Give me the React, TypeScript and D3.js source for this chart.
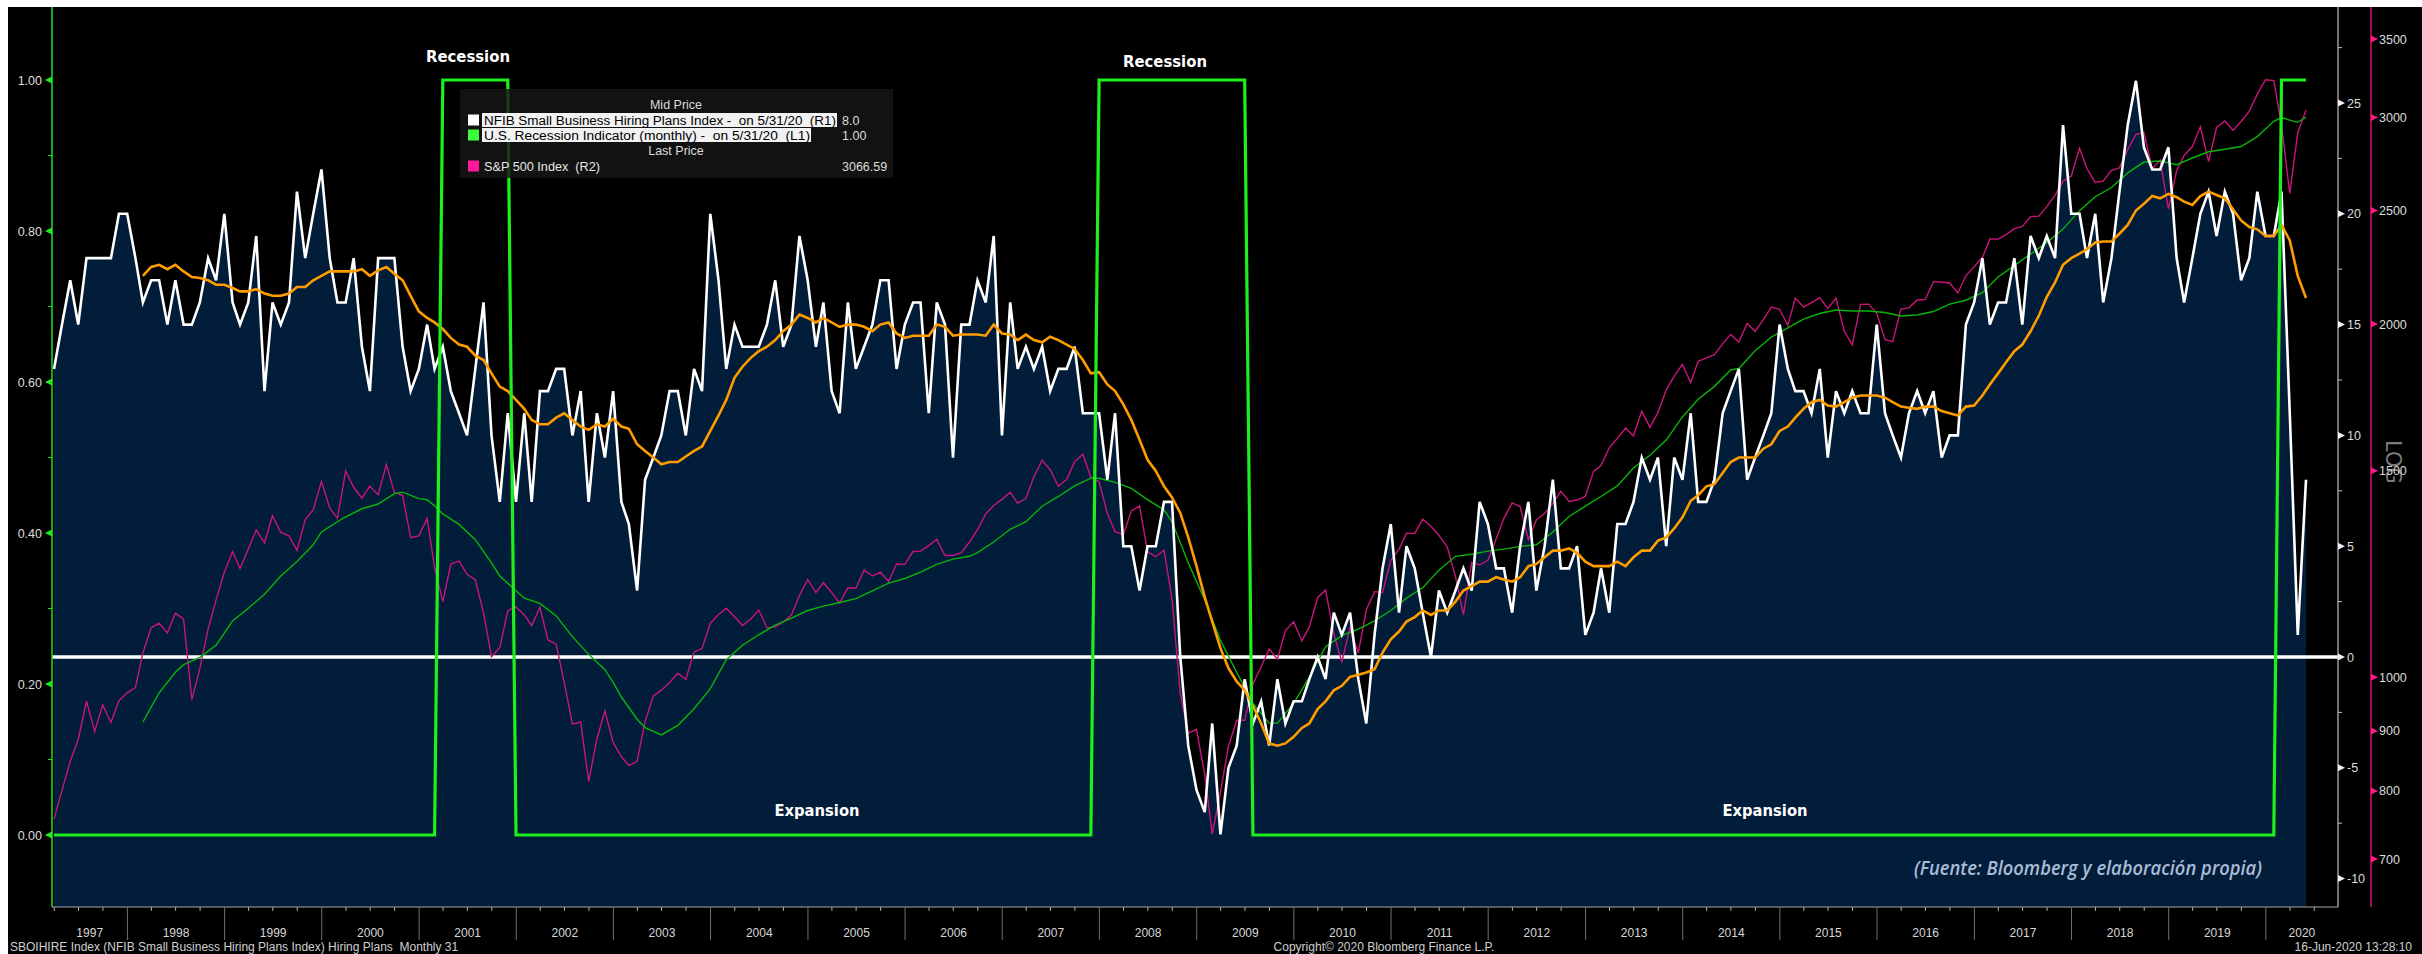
import React from 'react';
import * as d3 from 'd3';

// ---------- DATA (monthly, first month = Mar 1997, last = May 2020) ----------
const firstYear = 1997;
const firstMonth = 3;

// NFIB Small Business Hiring Plans Index (R1)
const nfib = [
  13, 15, 17, 15, 18, 18, 18, 18, 20, 20, 18, 16,
  17, 17, 15, 17, 15, 15, 16, 18, 17, 20, 16, 15,
  16, 19, 12, 16, 15, 16, 21, 18, 20, 22, 18, 16,
  16, 18, 14, 12, 18, 18, 18, 14, 12, 13, 15, 13,
  14, 12, 11, 10, 13, 16, 10, 7, 11, 7, 11, 7,
  12, 12, 13, 13, 10, 12, 7, 11, 9, 12, 7, 6,
  3, 8, 9, 10, 12, 12, 10, 13, 12, 20, 17, 13,
  15, 14, 14, 14, 15, 17, 14, 15, 19, 17, 14, 16,
  12, 11, 16, 13, 14, 15, 17, 17, 13, 15, 16, 16,
  11, 16, 15, 9, 15, 15, 17, 16, 19, 10, 16, 13,
  14, 13, 14, 12, 13, 13, 14, 11, 11, 11, 8, 11,
  5, 5, 3, 5, 5, 7, 7, 0, -4, -6, -7, -3,
  -8, -5, -4, -1, -3, -2, -4, -1, -3, -2, -2, -1,
  0, -1, 2, 1, 2, -1, -3, 1, 4, 6, 2, 5,
  4, 2, 0, 3, 2, 3, 4, 3, 7, 6, 4, 4,
  2, 5, 7, 3, 5, 8, 4, 4, 5, 1, 2, 4,
  2, 6, 6, 7, 9, 8, 9, 5, 9, 8, 11, 7,
  7, 8, 11, 12, 13, 8, 9, 10, 11, 15, 13, 12,
  12, 11, 13, 9, 12, 11, 12, 11, 11, 15, 11, 10,
  9, 11, 12, 11, 12, 9, 10, 10, 15, 16, 18, 15,
  16, 16, 18, 15, 19, 18, 19, 18, 24, 20, 20, 18,
  20, 16, 18, 21, 24, 26, 23, 22, 22, 23, 18, 16,
  18, 20, 21, 19, 21, 20, 17, 18, 21, 19, 19, 21,
  11, 1, 8,
];

// S&P 500 Index monthly close (R2)
const spx = [
  757, 801, 848, 885, 954, 899, 947, 915, 955, 970,
  980, 1049, 1102, 1112, 1091, 1134, 1121, 957, 1017, 1099, 1164, 1229,
  1280, 1238, 1286, 1335, 1302, 1373, 1329, 1320, 1283, 1363, 1389, 1469,
  1394, 1366, 1499, 1452, 1421, 1455, 1431, 1518, 1437, 1429, 1315, 1320,
  1366, 1240, 1160, 1249, 1256, 1224, 1211, 1134, 1041, 1060, 1139, 1148,
  1130, 1107, 1147, 1076, 1067, 990, 912, 916, 815, 886, 936, 880,
  856, 841, 848, 917, 964, 975, 990, 1008, 996, 1051, 1058, 1112,
  1131, 1145, 1126, 1107, 1121, 1141, 1102, 1104, 1115, 1130, 1174, 1212,
  1181, 1204, 1181, 1157, 1192, 1191, 1234, 1220, 1229, 1207, 1249, 1248,
  1280, 1281, 1295, 1311, 1270, 1270, 1277, 1304, 1336, 1378, 1401, 1418,
  1438, 1407, 1421, 1482, 1531, 1503, 1455, 1474, 1527, 1549, 1481, 1468,
  1379, 1331, 1323, 1386, 1400, 1280, 1267, 1283, 1166, 969, 896, 903,
  826, 735, 798, 873, 919, 919, 987, 1021, 1057, 1036, 1096, 1115,
  1074, 1104, 1169, 1187, 1089, 1031, 1102, 1049, 1141, 1183, 1181, 1258,
  1286, 1327, 1326, 1364, 1345, 1321, 1292, 1219, 1131, 1253, 1247, 1258,
  1312, 1366, 1408, 1398, 1310, 1362, 1379, 1407, 1441, 1412, 1416, 1426,
  1498, 1515, 1569, 1598, 1631, 1606, 1686, 1633, 1682, 1757, 1806, 1848,
  1783, 1859, 1872, 1884, 1924, 1960, 1931, 2003, 1972, 2018, 2068, 2059,
  1995, 2105, 2068, 2086, 2107, 2063, 2104, 1972, 1920, 2079, 2080, 2044,
  1940, 1932, 2060, 2065, 2097, 2099, 2174, 2171, 2168, 2126, 2199, 2239,
  2279, 2364, 2363, 2384, 2412, 2423, 2470, 2472, 2519, 2575, 2648, 2674,
  2824, 2714, 2641, 2648, 2705, 2718, 2816, 2902, 2914, 2712, 2760, 2507,
  2704, 2784, 2834, 2946, 2752, 2942, 2980, 2926, 2977, 3038, 3141, 3231,
  3226, 2954, 2585, 2912, 3044,
];

// Moving average of NFIB index (orange), starts Feb 1998
const nfibMaFirstIndex = 11;
const nfibMa = [
  17.2, 17.6, 17.7, 17.5, 17.7, 17.4, 17.15, 17.1, 17.0, 16.8, 16.8, 16.65,
  16.5, 16.5, 16.6, 16.4, 16.3, 16.3, 16.4, 16.7, 16.7, 17.0, 17.2, 17.4,
  17.4, 17.4, 17.4, 17.5, 17.2, 17.45, 17.6, 17.3, 17.0, 16.3, 15.6, 15.3,
  15.1, 14.8, 14.4, 14.1, 14.0, 13.6, 13.4, 12.8, 12.2, 12.0, 11.6, 11.2,
  10.7, 10.5, 10.5, 10.8, 11.0, 10.7, 10.4, 10.25, 10.5, 10.4, 10.75, 10.4,
  10.3, 9.6, 9.3, 9.0, 8.7, 8.8, 8.8, 9.05, 9.3, 9.5, 10.2, 10.9,
  11.6, 12.6, 13.1, 13.5, 13.8, 14.0, 14.3, 14.7, 15.0, 15.45, 15.3, 15.1,
  15.3, 15.1, 14.9, 15.0, 15.0, 14.9, 14.7, 15.0, 15.1, 14.6, 14.4, 14.5,
  14.5, 14.5, 15.0, 14.9, 14.5, 14.55, 14.55, 14.55, 14.5, 15.0, 14.6, 14.55,
  14.3, 14.55, 14.3, 14.2, 14.45, 14.3, 14.1, 13.9, 13.4, 12.8, 12.85, 12.3,
  12.0, 11.4, 10.7, 9.8, 8.9, 8.4, 7.7, 7.2, 6.5, 5.4, 4.1, 2.7,
  1.6, 0.4, -0.5, -1.1, -1.5, -2.2, -3.0, -3.9, -4.0, -3.9, -3.6, -3.2,
  -3.0, -2.35, -2.0, -1.5, -1.3, -0.9, -0.8, -0.7, -0.55, 0.2, 0.8, 1.15,
  1.6, 1.8, 2.1, 1.9, 2.1, 2.1, 2.5, 3.0, 3.2, 3.4, 3.4, 3.6,
  3.5, 3.4, 3.6, 4.1, 4.2, 4.5, 4.8, 4.8, 4.9, 4.7, 4.3, 4.1,
  4.1, 4.1, 4.3, 4.1, 4.5, 4.8, 4.8, 5.25, 5.4, 5.8, 6.3, 7.05,
  7.3, 7.7, 7.8, 8.3, 8.8, 9.0, 9.0, 9.0, 9.4, 9.6, 10.2, 10.4,
  10.8, 11.2, 11.5, 11.6, 11.35, 11.3, 11.5, 11.7, 11.8, 11.8, 11.8, 11.7,
  11.5, 11.3, 11.25, 11.2, 11.3, 11.3, 11.1, 11.0, 10.9, 11.3, 11.35, 11.8,
  12.3, 12.8, 13.3, 13.8, 14.1, 14.7, 15.4, 16.25, 16.9, 17.7, 18.0, 18.2,
  18.4, 18.7, 18.75, 18.75, 19.1, 19.5, 20.15, 20.45, 20.8, 20.7, 20.9, 20.75,
  20.55, 20.4, 20.8, 21.0, 20.85, 20.7, 20.2, 19.7, 19.4, 19.3, 19.0, 19.0,
  19.5, 18.8, 17.2, 16.2,
];

// Moving average of S&P 500 (thin green), read at these month indices (0 = Mar 1997)
const spxMaIndex = [
  11, 13, 15, 16, 18, 20, 22, 24, 26, 28, 30, 32, 33, 35, 36, 38, 40, 42, 43, 45,
  46, 47, 48, 50, 52, 54, 55, 57, 58, 60, 62, 64, 66, 68, 69, 70, 72, 73, 75, 77,
  79, 81, 83, 85, 87, 89, 91, 93, 95, 97, 99, 101, 103, 105, 107, 109, 111, 113, 114, 116,
  118, 120, 122, 124, 126, 128, 129, 131, 133, 135, 137, 138, 140, 142, 144, 146, 148, 150, 151, 153,
  155, 157, 159, 161, 163, 165, 167, 169, 171, 173, 175, 177, 179, 181, 183, 185, 187, 189, 191, 193,
  195, 197, 199, 201, 203, 205, 207, 208, 210, 212, 214, 216, 218, 220, 222, 224, 226, 228, 230, 232,
  234, 236, 238, 240, 242, 244, 246, 248, 250, 252, 254, 256, 258, 260, 262, 264, 266, 268, 270, 272,
  274, 275, 276, 277, 278,
];
const spxMa = [
  916, 970, 1010, 1025, 1040, 1065, 1117, 1145, 1177, 1220, 1255, 1297, 1330, 1357, 1370, 1392, 1405, 1434, 1438, 1420,
  1417, 1400, 1378, 1350, 1310, 1252, 1220, 1185, 1168, 1156, 1128, 1083, 1046, 1015, 990, 962, 921, 906, 893, 910,
  940, 978, 1035, 1065, 1087, 1108, 1123, 1140, 1150, 1158, 1167, 1185, 1203, 1214, 1229, 1248, 1261, 1268, 1277, 1304,
  1337, 1357, 1399, 1426, 1456, 1478, 1478, 1466, 1449, 1417, 1389, 1357, 1252, 1164, 1075, 1010, 950, 914, 914, 950,
  1000, 1062, 1085, 1099, 1117, 1140, 1168, 1192, 1234, 1268, 1273, 1281, 1286, 1293, 1297, 1330, 1371, 1399, 1426, 1456,
  1508, 1546, 1593, 1667, 1726, 1770, 1828, 1833, 1898, 1950, 1985, 2020, 2042, 2056, 2052, 2052, 2046, 2032, 2036, 2050,
  2080, 2096, 2127, 2194, 2243, 2295, 2347, 2410, 2499, 2568, 2615, 2691, 2749, 2755, 2735, 2771, 2805, 2819, 2834, 2890,
  2978, 3000, 2985, 2972, 3003,
];

// U.S. Recession Indicator (L1): months flagged as recession
const recessionFrom = ['2001-03', '2007-12', '2020-02'];
const recessionTo = ['2001-11', '2009-06', '2020-05'];

const leftTicks = [0, 0.2, 0.4, 0.6, 0.8, 1.0];
const leftMinor = [0.1, 0.3, 0.5, 0.7, 0.9];
const r1Ticks = [-10, -5, 0, 5, 10, 15, 20, 25];
const r1Minor = [-7.5, -2.5, 2.5, 7.5, 12.5, 17.5, 22.5, 27.5];
const r2Ticks = [700, 800, 900, 1000, 1500, 2000, 2500, 3000, 3500];

const legendRows = [
  'NFIB Small Business Hiring Plans Index -  on 5/31/20  (R1)',
  'U.S. Recession Indicator (monthly) -  on 5/31/20  (L1)',
  'S&P 500 Index  (R2)',
];
const legendValues = ['8.0', '1.00', '3066.59'];

// ---------- helpers ----------
const monthEnd = (m: number) => new Date(firstYear, firstMonth - 1 + m + 1, 0);
const monthIdx = (s: string) => {
  const [y, mo] = s.split('-').map(Number);
  return (y - firstYear) * 12 + (mo - firstMonth);
};

const AX = "'Liberation Sans', Arial, sans-serif";

export default function App() {
  const n = nfib.length;
  const dates = d3.range(n).map(monthEnd);

  const plotL = 52;
  const dataR = 2306;
  const r1X = 2338;
  const r2X = 2371;
  const top = 7;
  const bottom = 907;

  const x = d3.scaleTime().domain([dates[0], dates[n - 1]]).range([54, dataR]);
  const yL = d3.scaleLinear().domain([0, 1]).range([835, 80]);
  const yR1 = d3.scaleLinear().domain([0, 25]).range([657, 103]);
  const yR2 = d3.scaleLog().domain([700, 3500]).range([859, 39]);

  const recession = dates.map((_, i) =>
    recessionFrom.some((s, k) => i >= monthIdx(s) && i <= monthIdx(recessionTo[k])) ? 1 : 0
  );

  const area = d3
    .area<number>()
    .x((_, i) => x(dates[i]))
    .y0(bottom)
    .y1((d) => yR1(d));
  const nfibLine = d3
    .line<number>()
    .x((_, i) => x(dates[i]))
    .y((d) => yR1(d));
  const nfibMaLine = d3
    .line<number>()
    .x((_, i) => x(dates[i + nfibMaFirstIndex]))
    .y((d) => yR1(d));
  const spxLine = d3
    .line<number>()
    .x((_, i) => x(dates[i]))
    .y((d) => yR2(d));
  const spxMaLine = d3
    .line<number>()
    .x((_, i) => x(dates[spxMaIndex[i]]))
    .y((d) => yR2(d));
  const recLine = d3
    .line<number>()
    .x((_, i) => x(dates[i]))
    .y((d) => yL(d));

  // bottom axis
  const axisStart = x.invert(plotL);
  const axisEnd = x.invert(r1X);
  const yearStarts = d3.timeYear.range(d3.timeYear.ceil(axisStart), axisEnd);
  const quarterTicks = d3.timeMonth
    .every(3)!
    .range(d3.timeMonth.ceil(axisStart), axisEnd)
    .filter((d) => d.getMonth() !== 0);
  const years = d3.range(axisStart.getFullYear(), axisEnd.getFullYear() + 1);

  const tri = (xa: number, y: number, dir: number) =>
    `${xa},${y - 3.5} ${xa},${y + 3.5} ${xa + dir * 7},${y}`;

  return (
    <svg
      width={2422}
      height={954}
      style={{ position: 'absolute', left: 0, top: 0, display: 'block' }}
    >
      <rect x={0} y={0} width={2422} height={954} fill="#ffffff" />
      <rect x={8} y={top} width={2414} height={954 - top} fill="#000000" />

      {/* NFIB area */}
      <path d={area(nfib) || ''} fill="#021d3a" />

      {/* R1 zero line */}
      <line x1={plotL} x2={r1X} y1={yR1(0)} y2={yR1(0)} stroke="#ffffff" strokeWidth={3.5} />

      {/* S&P 500 and its average */}
      <path d={spxLine(spx) || ''} fill="none" stroke="#c8157a" strokeWidth={1.4} />
      <path d={spxMaLine(spxMa) || ''} fill="none" stroke="#0ab40a" strokeWidth={1.4} />

      {/* NFIB line and average */}
      <path d={nfibLine(nfib) || ''} fill="none" stroke="#ffffff" strokeWidth={2.6} strokeLinejoin="miter" />
      <path d={nfibMaLine(nfibMa) || ''} fill="none" stroke="#ff9c00" strokeWidth={2.6} />

      {/* recession indicator */}
      <path d={recLine(recession) || ''} fill="none" stroke="#1ef01e" strokeWidth={3.2} />

      {/* left axis */}
      <line x1={plotL} x2={plotL} y1={top} y2={bottom} stroke="#1ee01e" strokeWidth={1.5} />
      {leftTicks.map((t) => (
        <g key={'l' + t}>
          <polygon points={tri(plotL, yL(t), -1)} fill="#1ef01e" />
          <text x={42} y={yL(t) + 4.5} fill="#dcdcdc" fontSize={12.5} fontFamily={AX} textAnchor="end">
            {t.toFixed(2)}
          </text>
        </g>
      ))}
      {leftMinor.map((t) => (
        <line key={'lm' + t} x1={plotL - 4} x2={plotL} y1={yL(t)} y2={yL(t)} stroke="#1ee01e" strokeWidth={1} />
      ))}

      {/* R1 axis */}
      <line x1={r1X} x2={r1X} y1={top} y2={bottom} stroke="#bdbdbd" strokeWidth={1.2} />
      {r1Ticks.map((t) => (
        <g key={'r1' + t}>
          <polygon points={tri(r1X, yR1(t), 1)} fill="#f0f0f0" />
          <text x={r1X + 9} y={yR1(t) + 4.5} fill="#dcdcdc" fontSize={12.5} fontFamily={AX}>
            {t}
          </text>
        </g>
      ))}
      {r1Minor.map((t) => (
        <line key={'r1m' + t} x1={r1X} x2={r1X + 4} y1={yR1(t)} y2={yR1(t)} stroke="#bdbdbd" strokeWidth={1} />
      ))}

      {/* R2 axis */}
      <line x1={r2X} x2={r2X} y1={top} y2={bottom} stroke="#ff1a8c" strokeWidth={1.2} />
      <text
        x={2386}
        y={440}
        fill="#7d7d7d"
        fontSize={21}
        fontFamily="'DejaVu Sans', sans-serif"
        transform="rotate(90 2386 440)"
      >
        LOG
      </text>
      {r2Ticks.map((t) => (
        <g key={'r2' + t}>
          <polygon points={tri(r2X, yR2(t), 1)} fill="#ff1a8c" />
          <text x={r2X + 8} y={yR2(t) + 4.5} fill="#dcdcdc" fontSize={12.5} fontFamily={AX}>
            {t}
          </text>
        </g>
      ))}

      {/* bottom axis */}
      <line x1={plotL} x2={r1X} y1={bottom} y2={bottom} stroke="#a8a8a8" strokeWidth={1.2} />
      {quarterTicks.map((d) => (
        <line key={'q' + d.getTime()} x1={x(d)} x2={x(d)} y1={bottom} y2={bottom + 4} stroke="#a8a8a8" strokeWidth={1} />
      ))}
      {yearStarts.map((d) => (
        <line key={'y' + d.getTime()} x1={x(d)} x2={x(d)} y1={bottom} y2={bottom + 33} stroke="#6e6e6e" strokeWidth={1} />
      ))}
      {years.map((yr) => {
        const a = Math.max(plotL, x(new Date(yr, 0, 1)));
        const b = Math.min(r1X, x(new Date(yr + 1, 0, 1)));
        return (
          <text key={'yl' + yr} x={(a + b) / 2} y={937} fill="#d8d8d8" fontSize={12} fontFamily={AX} textAnchor="middle">
            {yr}
          </text>
        );
      })}

      {/* footer */}
      <text x={10} y={951} fill="#d0d0d0" fontSize={12} fontFamily={AX} style={{ whiteSpace: 'pre' }}>
        {'SBOIHIRE Index (NFIB Small Business Hiring Plans Index) Hiring Plans  Monthly 31'}
      </text>
      <text x={1384} y={951} fill="#d0d0d0" fontSize={12} fontFamily={AX} textAnchor="middle">
        Copyright© 2020 Bloomberg Finance L.P.
      </text>
      <text x={2412} y={951} fill="#d0d0d0" fontSize={12} fontFamily={AX} textAnchor="end">
        16-Jun-2020 13:28:10
      </text>

      {/* annotations */}
      <text x={468} y={62} fill="#ffffff" fontSize={15} fontWeight="bold" fontFamily="'DejaVu Sans', sans-serif" textAnchor="middle" textLength={84} lengthAdjust="spacingAndGlyphs">
        Recession
      </text>
      <text x={1165} y={67} fill="#ffffff" fontSize={15} fontWeight="bold" fontFamily="'DejaVu Sans', sans-serif" textAnchor="middle" textLength={84} lengthAdjust="spacingAndGlyphs">
        Recession
      </text>
      <text x={817} y={816} fill="#ffffff" fontSize={15} fontWeight="bold" fontFamily="'DejaVu Sans', sans-serif" textAnchor="middle" textLength={85} lengthAdjust="spacingAndGlyphs">
        Expansion
      </text>
      <text x={1765} y={816} fill="#ffffff" fontSize={15} fontWeight="bold" fontFamily="'DejaVu Sans', sans-serif" textAnchor="middle" textLength={85} lengthAdjust="spacingAndGlyphs">
        Expansion
      </text>
      <text x={1914} y={875} fill="#a9bbd6" fontSize={20} fontStyle="italic" fontWeight={600} fontFamily="'Open Sans', sans-serif" textLength={348} lengthAdjust="spacingAndGlyphs">
        (Fuente: Bloomberg y elaboración propia)
      </text>

      {/* legend */}
      <rect x={460} y={89} width={433} height={89} fill="#161616" fillOpacity={0.82} />
      <text x={676} y={109} fill="#dcdcdc" fontSize={12.5} fontFamily={AX} textAnchor="middle">
        Mid Price
      </text>
      <text x={676} y={155} fill="#dcdcdc" fontSize={12.5} fontFamily={AX} textAnchor="middle">
        Last Price
      </text>
      <rect x={482} y={113} width={355} height={14} fill="#ffffff" fillOpacity={0.95} />
      <rect x={482} y={128} width={329} height={14} fill="#ffffff" fillOpacity={0.95} />
      {[
        { c: '#ffffff', y: 120, tc: '#000000', w: 352 },
        { c: '#3cff3c', y: 135, tc: '#000000', w: 326 },
        { c: '#ff1a9c', y: 166, tc: '#e6e6e6', w: 116 },
      ].map((r, i) => (
        <g key={'lg' + i}>
          <rect x={468} y={r.y - 5.5} width={11} height={11} fill={r.c} />
          <text x={484} y={r.y + 4.5} fill={r.tc} fontSize={12.5} fontFamily={AX} textLength={r.w} lengthAdjust="spacingAndGlyphs" style={{ whiteSpace: 'pre' }}>
            {legendRows[i]}
          </text>
          <text x={842} y={r.y + 4.5} fill="#dcdcdc" fontSize={12.5} fontFamily={AX}>
            {legendValues[i]}
          </text>
        </g>
      ))}
    </svg>
  );
}
